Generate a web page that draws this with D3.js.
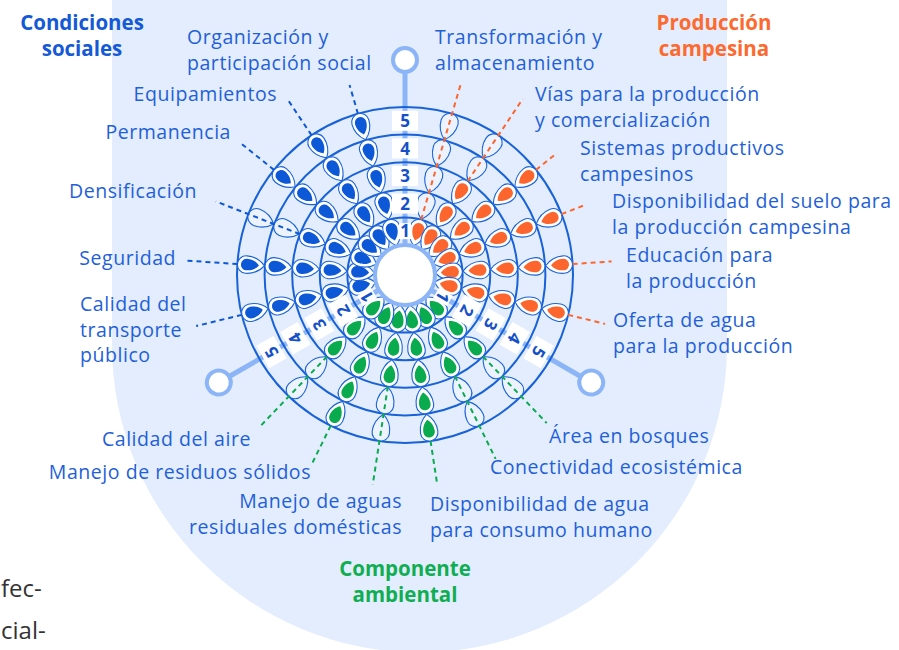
<!DOCTYPE html>
<html>
<head>
<meta charset="utf-8">
<script src="https://d3js.org/d3.v7.min.js"></script>
<style>
  body { margin: 0; background: #fff; }
  svg { display: block; font-family: "Open Sans", Lato, sans-serif; }
  .label { fill: #1f5fd9; font-size: 19.5px; letter-spacing: 0.55px; }
  .title { font-size: 20.5px; font-weight: 700; }
  .num { font-size: 17px; font-weight: 700; fill: #1550c8; }
</style>
</head>
<body>
<div id="chart"></div>
<script>
// sectors, clockwise from the top axis
const sectors = ["Producción campesina", "Componente ambiental", "Condiciones sociales"];

const campesinaIndicators = ["Transformación y almacenamiento", "Vías para la producción y comercialización",
  "Sistemas productivos campesinos", "Disponibilidad del suelo para la producción campesina",
  "Educación para la producción", "Oferta de agua para la producción"];
const campesinaValues = [1, 3, 5, 5, 5, 5];

const ambientalIndicators = ["Área en bosques", "Conectividad ecosistémica",
  "Disponibilidad de agua para consumo humano", "Manejo de aguas residuales domésticas",
  "Manejo de residuos sólidos", "Calidad del aire"];
const ambientalValues = [3, 3, 5, 3, 5, 3];

const socialIndicators = ["Calidad del transporte público", "Seguridad", "Densificación",
  "Permanencia", "Equipamientos", "Organización y participación social"];
const socialValues = [5, 5, 3, 5, 5, 5];

const levels = [1, 2, 3, 4, 5];

// layout
const width = 899, height = 650;
const cx = 405, cy = 275;
const colors = {
  "Producción campesina": "#fc662e",
  "Componente ambiental": "#0aab4e",
  "Condiciones sociales": "#0c58d6"
};
const titleColors = {
  "Producción campesina": "#fc6a30",
  "Componente ambiental": "#10ad52",
  "Condiciones sociales": "#1459d6"
};
const ringColor = "#1862d8";
const axisColor = "#8cb5f7";

// label placement: x, baseline y, anchor, words per line, leader end radius
const labelLayout = {
  "Organización y participación social": [187, 44, "start", [2, 2], 198],
  "Transformación y almacenamiento": [435, 44, "start", [2, 1], 198],
  "Equipamientos": [277, 101, "end", [1], 209],
  "Vías para la producción y comercialización": [535, 101, "start", [4, 2], 212],
  "Permanencia": [231, 139, "end", [1], 212],
  "Sistemas productivos campesinos": [580, 155, "start", [2, 1], 192],
  "Densificación": [197, 198, "end", [1], 203],
  "Disponibilidad del suelo para la producción campesina": [612, 208, "start", [4, 3], 192],
  "Seguridad": [176, 265, "end", [1], 218],
  "Educación para la producción": [626, 262, "start", [2, 2], 207],
  "Calidad del transporte público": [80, 311, "start", [2, 1, 1], 215],
  "Oferta de agua para la producción": [613, 327, "start", [3, 3], 206],
  "Calidad del aire": [251, 446, "end", [3], 210],
  "Área en bosques": [549, 443, "start", [3], 205],
  "Manejo de residuos sólidos": [311, 479, "end", [4], 211],
  "Conectividad ecosistémica": [490, 474, "start", [2], 205],
  "Manejo de aguas residuales domésticas": [402, 508, "end", [3, 2], 212],
  "Disponibilidad de agua para consumo humano": [430, 511, "start", [3, 3], 210]
};
const titleLayout = {
  "Condiciones sociales": [82, 30],
  "Producción campesina": [714, 30],
  "Componente ambiental": [405, 576]
};

const svg = d3.select("#chart").append("svg")
    .attr("width", width)
    .attr("height", height);

// background panel
svg.append("path")
    .attr("d", "M112,0H727V345A307.5,307.5 0 0 1 112,345Z")
    .attr("fill", "#e3edfd");

// scales
const sectorStart = d3.scalePoint().domain(sectors).range([0, 240]);
const r = d3.scaleLinear().domain([0, 5]).range([30, 168]);
const polar = (a, rr) => [cx + rr * Math.sin(a * Math.PI / 180), cy - rr * Math.cos(a * Math.PI / 180)];

const groups = [
  { sector: sectors[0], names: campesinaIndicators, values: campesinaValues },
  { sector: sectors[1], names: ambientalIndicators, values: ambientalValues },
  { sector: sectors[2], names: socialIndicators, values: socialValues }
];

const indicators = groups.flatMap(gr => {
  const s0 = sectorStart(gr.sector);
  const angle = d3.scalePoint().domain(gr.names).range([s0, s0 + 120]).padding(0.93);
  return gr.names.map((name, i) => ({ name, sector: gr.sector, value: gr.values[i], angle: angle(name) }));
});
const petals = indicators.flatMap(ind => levels.map(lv => ({ ...ind, level: lv, filled: lv <= ind.value })));

// teardrop: tip at origin, round end pointing up
function petalPath(L, W) {
  const h = W / 2;
  return `M0,0C${h * 0.45},${-L * 0.12} ${h},${-L * 0.32} ${h},${-(L - h)}` +
         `A${h},${h} 0 0 0 ${-h},${-(L - h)}` +
         `C${-h},${-L * 0.32} ${-h * 0.45},${-L * 0.12} 0,0Z`;
}

// axes
const axes = svg.append("g").selectAll("g").data(sectors).join("g")
    .attr("transform", d => `translate(${cx},${cy}) rotate(${sectorStart(d)})`);
axes.append("line")
    .attr("x1", 0).attr("y1", -r(0))
    .attr("x2", 0).attr("y2", -203)
    .attr("stroke", axisColor)
    .attr("stroke-width", 5);

// rings
svg.append("g").selectAll("circle").data(levels).join("circle")
    .attr("cx", cx).attr("cy", cy)
    .attr("r", d => r(d))
    .attr("fill", "none")
    .attr("stroke", ringColor)
    .attr("stroke-width", 2);

// petals
const petal = svg.append("g").selectAll("g").data(petals).join("g")
    .attr("transform", d => {
      const [x, y] = polar(d.angle, r(d.level - 1) + 0.5);
      return `translate(${x},${y}) rotate(${d.angle})`;
    });
petal.append("path")
    .attr("d", petalPath(27, 17.5))
    .attr("fill", d => d.filled ? "#fff" : "#ecf3fe")
    .attr("stroke", ringColor)
    .attr("stroke-width", 1.1);
petal.filter(d => d.filled).append("path")
    .attr("d", petalPath(18, 11.5))
    .attr("transform", "translate(0,-5.5)")
    .attr("fill", d => colors[d.sector]);

// leader lines
svg.append("g").selectAll("line").data(indicators).join("line")
    .attr("x1", d => polar(d.angle, r(d.value))[0])
    .attr("y1", d => polar(d.angle, r(d.value))[1])
    .attr("x2", d => polar(d.angle, labelLayout[d.name][4])[0])
    .attr("y2", d => polar(d.angle, labelLayout[d.name][4])[1])
    .attr("stroke", d => colors[d.sector])
    .attr("stroke-width", 2)
    .attr("stroke-dasharray", "5,4");

// level numbers on the axes
const axesTop = svg.append("g").selectAll("g").data(sectors).join("g")
    .attr("transform", d => `translate(${cx},${cy}) rotate(${sectorStart(d)})`);
const num = axesTop.selectAll("g").data(levels).join("g")
    .attr("transform", k => `translate(0,${-(r(k - 1) + r(k)) / 2})`);
num.append("rect")
    .attr("x", k => k === 1 ? -6 : -13)
    .attr("y", k => k === 1 ? -8 : -10)
    .attr("width", k => k === 1 ? 12 : 26)
    .attr("height", k => k === 1 ? 16 : 20)
    .attr("fill", "#fff");
num.append("text")
    .attr("class", "num")
    .attr("text-anchor", "middle")
    .attr("dy", "0.36em")
    .text(k => k);
axesTop.append("circle")
    .attr("cy", -215)
    .attr("r", 12)
    .attr("fill", "#fff")
    .attr("stroke", axisColor)
    .attr("stroke-width", 4);

// hub
svg.append("circle")
    .attr("cx", cx).attr("cy", cy)
    .attr("r", 30)
    .attr("fill", "#fff")
    .attr("stroke", axisColor)
    .attr("stroke-width", 4);

// indicator labels
function splitWords(text, counts) {
  const words = text.split(" ");
  const lines = [];
  let i = 0;
  counts.forEach(c => { lines.push(words.slice(i, i + c).join(" ")); i += c; });
  return lines;
}
const label = svg.append("g").selectAll("text").data(indicators).join("text")
    .attr("class", "label")
    .attr("x", d => labelLayout[d.name][0])
    .attr("y", d => labelLayout[d.name][1])
    .attr("text-anchor", d => labelLayout[d.name][2]);
label.selectAll("tspan")
    .data(d => splitWords(d.name, labelLayout[d.name][3]).map((t, i) => ({ t, i, x: labelLayout[d.name][0] })))
    .join("tspan")
    .attr("x", d => d.x)
    .attr("dy", d => d.i === 0 ? 0 : 25.5)
    .text(d => d.t);

// sector titles
const title = svg.append("g").selectAll("text").data(sectors).join("text")
    .attr("class", "title")
    .attr("text-anchor", "middle")
    .attr("x", d => titleLayout[d][0])
    .attr("y", d => titleLayout[d][1])
    .attr("fill", d => titleColors[d]);
title.selectAll("tspan")
    .data(d => d.split(" ").map((t, i) => ({ t, i, x: titleLayout[d][0] })))
    .join("tspan")
    .attr("x", d => d.x)
    .attr("dy", d => d.i === 0 ? 0 : 26)
    .text(d => d.t);

// body text of the neighbouring column
svg.append("g").selectAll("text").data(["fec-", "cial-"]).join("text")
    .attr("x", 1)
    .attr("y", (d, i) => 597 + i * 42)
    .attr("fill", "#333")
    .style("font-size", "24px")
    .text(d => d);
</script>
</body>
</html>
